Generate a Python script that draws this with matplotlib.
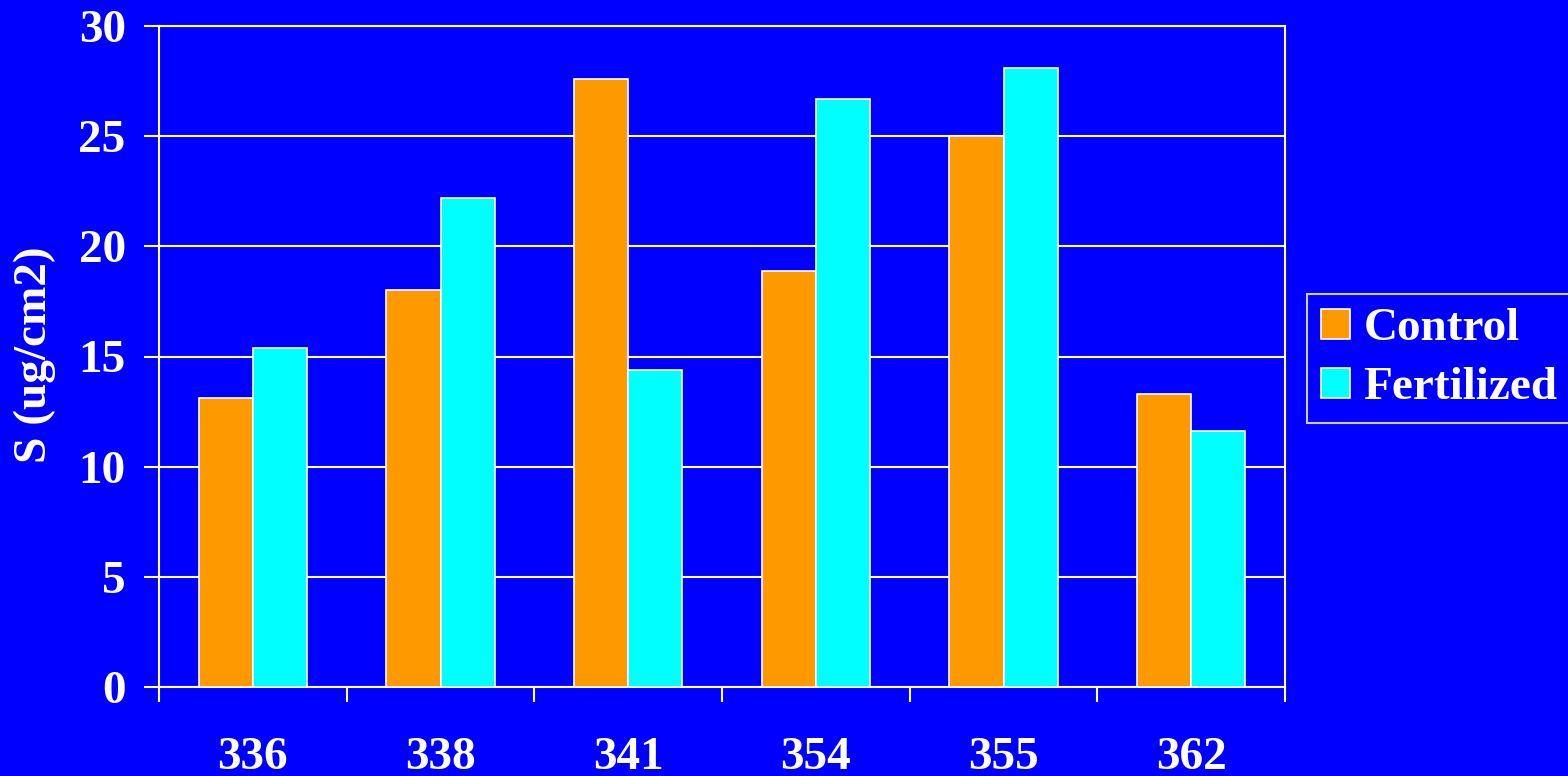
import numpy as np
from matplotlib import pyplot as plt

# ---------------- data ----------------
sites = ["336", "338", "341", "354", "355", "362"]
control = [13.1, 18.0, 27.6, 18.9, 25.0, 13.3]
fertilized = [15.4, 22.2, 14.4, 26.7, 28.1, 11.6]

# ---------------- style ----------------
bg = "#0000FF"
orange = "#FF9900"
cyan = "#00FFFF"
plt.rcParams["font.family"] = ["Liberation Serif", "DejaVu Serif"]
plt.rcParams["font.weight"] = "bold"

fig = plt.figure(figsize=(15.68, 7.76), dpi=100, facecolor=bg)
ax = fig.add_axes([159/1568, 1-687/776, (1285-159)/1568, (687-26)/776])
ax.set_facecolor(bg)

x = np.arange(len(sites))
w = 0.288
ax.bar(x - w/2, control, w, color=orange, edgecolor="white", linewidth=1.2,
       label="Control", zorder=3)
ax.bar(x + w/2, fertilized, w, color=cyan, edgecolor="white", linewidth=1.2,
       label="Fertilized", zorder=3)

ax.set_xlim(-0.5, len(sites) - 0.5)
ax.set_ylim(0, 30)
ax.set_yticks(np.arange(0, 31, 5))
ax.yaxis.grid(True, color="white", linewidth=1.5, zorder=0)

# labels in the middle, tick marks at group boundaries
ax.set_xticks(x)
ax.set_xticklabels(sites)
ax.set_xticks(np.arange(-0.5, len(sites), 1.0), minor=True)
ax.tick_params(axis="x", which="major", length=0, pad=36, labelsize=34,
               labelcolor="white")
ax.tick_params(axis="x", which="minor", length=11, width=1.5, color="white")
ax.tick_params(axis="y", length=11, width=1.5, color="white", pad=13,
               labelsize=34, labelcolor="white")

for s in ax.spines.values():
    s.set_color("white")
    s.set_linewidth(1.5)

fig.text(35/1568, 1-355/776, "S (ug/cm2)", rotation=90, color="white",
         fontsize=34, fontweight="bold", ha="center", va="center")

leg = ax.legend(loc="upper left", bbox_to_anchor=(1307/1568, 1-294/776),
                bbox_transform=fig.transFigure, fontsize=34, frameon=True,
                fancybox=False, facecolor=bg, edgecolor="white",
                labelcolor="white", handlelength=0.6, handleheight=0.6,
                handletextpad=0.3, borderpad=0.3, labelspacing=0.36,
                borderaxespad=0)
leg.get_frame().set_linewidth(1.5)

fig.savefig("out.png", dpi=100, facecolor=bg)
